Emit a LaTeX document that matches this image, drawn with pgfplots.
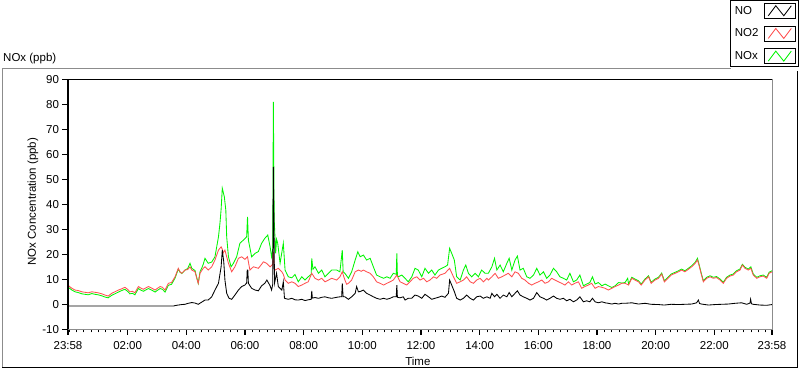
\documentclass[border=0pt]{standalone}
\usepackage{fontspec}
\setmainfont{Liberation Sans}
\usepackage{pgfplots}
\usepackage{pgfplotstable}
\pgfplotsset{compat=1.18}
\definecolor{noxgreen}{RGB}{0,245,0}
\definecolor{notwored}{RGB}{255,80,80}
\definecolor{framegray}{RGB}{140,140,140}

% time in hours after 23:58
\pgfplotstableread{
x y
0 -0.7
3.60 -0.7
3.65 -0.5
3.76 -0.3
3.88 -0.1
3.99 0.0
4.10 0.4
4.22 0.7
4.33 0.5
4.44 0.0
4.55 0.8
4.67 1.7
4.78 1.7
4.90 3.0
5.01 5.7
5.13 8.4
5.22 15.0
5.26 21.7
5.31 17.0
5.35 9.7
5.41 4.4
5.49 2.4
5.58 2.0
5.69 3.7
5.81 5.7
5.92 7.1
6.03 7.7
6.09 8.5
6.11 13.7
6.13 13.7
6.15 8.4
6.26 6.4
6.38 5.7
6.49 5.4
6.60 7.4
6.71 8.4
6.78 9.7
6.89 7.4
6.94 5.7
6.98 8.0
7.00 55.0
7.02 33.0
7.04 8.4
7.11 12.4
7.17 7.1
7.29 5.7
7.34 9.0
7.38 2.4
7.51 2.0
7.63 2.4
7.74 1.8
7.85 1.7
7.97 2.0
8.08 1.5
8.19 1.8
8.29 2.0
8.31 5.4
8.33 2.5
8.42 2.7
8.54 2.4
8.65 2.8
8.76 3.0
8.88 2.6
8.99 2.4
9.16 2.8
9.27 3.0
9.33 3.0
9.35 8.4
9.38 3.0
9.44 3.0
9.56 2.0
9.67 3.0
9.79 4.4
9.84 7.1
9.90 5.0
9.96 5.1
10.07 5.7
10.18 4.4
10.30 3.7
10.41 3.0
10.52 2.4
10.64 2.0
10.76 2.4
10.87 2.0
10.98 2.4
11.09 3.0
11.19 3.0
11.21 7.7
11.23 2.8
11.32 2.6
11.43 3.0
11.49 1.7
11.60 2.4
11.72 2.4
11.83 3.7
11.94 3.3
12.06 2.4
12.17 4.0
12.29 3.0
12.40 2.0
12.51 2.4
12.63 2.8
12.74 3.3
12.85 2.8
12.97 4.4
13.01 9.7
13.08 7.7
13.17 5.1
13.25 2.4
13.37 1.7
13.48 2.4
13.59 3.7
13.71 2.4
13.82 1.7
13.93 3.0
14.05 3.3
14.16 2.4
14.28 3.0
14.39 2.4
14.45 4.4
14.54 3.0
14.62 4.0
14.73 2.4
14.84 3.7
14.96 3.0
15.04 4.7
15.13 3.0
15.24 4.4
15.32 5.4
15.41 3.7
15.52 3.0
15.64 2.4
15.75 1.7
15.87 2.4
15.98 4.7
16.09 3.0
16.21 2.4
16.32 1.7
16.43 2.4
16.55 3.3
16.66 2.4
16.77 2.0
16.89 2.4
17.00 1.4
17.11 2.0
17.23 1.0
17.34 1.7
17.45 3.0
17.57 1.0
17.68 1.4
17.79 1.0
17.88 2.4
17.97 1.0
18.08 0.6
18.20 1.0
18.31 0.6
18.42 0.4
18.54 0.1
18.65 0.4
18.77 0.1
18.88 0.4
18.99 0.4
19.22 0.6
19.45 0.1
19.67 0.4
19.88 0.0
20.13 -0.1
20.33 -0.3
20.56 0.0
20.81 -0.1
21.03 0.0
21.26 0.1
21.43 0.6
21.49 1.7
21.53 0.3
21.60 0.1
21.83 -0.3
22.06 -0.1
22.28 0.0
22.51 0.1
22.74 0.4
22.96 0.6
23.14 0.0
23.25 0.5
23.27 2.0
23.30 0.2
23.36 0.0
23.59 -0.3
23.82 -0.4
24.00 -0.1
}\tblNO

\pgfplotstableread{
x y
0 7.6
0.12 6.5
0.24 5.7
0.35 5.5
0.47 5.0
0.58 4.8
0.69 4.6
0.81 5.0
0.92 4.8
1.03 4.6
1.15 4.2
1.26 3.7
1.37 3.3
1.49 4.4
1.60 5.0
1.72 5.7
1.83 6.2
1.94 6.8
2.03 6.0
2.11 5.0
2.20 5.2
2.28 4.6
2.40 7.1
2.48 6.5
2.57 6.0
2.66 6.6
2.74 7.1
2.85 6.5
2.97 5.7
3.05 6.4
3.14 7.1
3.22 6.8
3.31 5.7
3.42 8.4
3.53 8.7
3.65 11.0
3.76 14.4
3.82 13.0
3.88 12.4
3.99 13.7
4.08 13.9
4.16 15.0
4.22 13.7
4.33 13.0
4.40 10.0
4.44 8.4
4.50 12.4
4.56 13.5
4.61 14.4
4.67 15.0
4.78 13.7
4.90 15.0
5.01 17.7
5.13 21.7
5.22 23.0
5.26 22.0
5.29 20.5
5.35 21.7
5.41 19.0
5.47 16.4
5.58 13.0
5.69 15.0
5.81 18.4
5.92 19.0
6.03 18.0
6.12 19.0
6.20 13.7
6.32 15.0
6.38 14.8
6.49 14.4
6.60 16.0
6.66 17.0
6.77 16.4
6.89 15.0
6.98 16.0
7.00 21.0
7.03 14.5
7.06 13.7
7.17 14.4
7.29 13.0
7.34 12.0
7.40 9.7
7.51 8.4
7.63 9.0
7.74 8.4
7.85 7.1
7.97 7.7
8.08 8.4
8.19 9.0
8.31 12.4
8.42 10.4
8.54 9.7
8.65 10.4
8.76 9.0
8.88 9.7
8.99 10.4
9.16 9.7
9.27 11.0
9.35 13.0
9.44 9.7
9.50 8.0
9.56 8.4
9.67 9.7
9.79 13.0
9.90 13.7
10.00 13.2
10.07 13.7
10.18 13.0
10.30 12.4
10.41 11.0
10.52 9.0
10.64 8.4
10.76 7.7
10.87 8.4
10.98 9.0
11.09 9.7
11.21 11.7
11.32 9.0
11.43 8.4
11.55 7.7
11.66 9.0
11.77 10.4
11.89 11.0
12.00 9.7
12.12 10.4
12.23 9.0
12.34 9.7
12.46 11.0
12.57 10.4
12.68 11.7
12.85 12.4
13.01 14.4
13.14 11.0
13.25 8.4
13.37 9.0
13.48 9.7
13.59 11.0
13.71 9.0
13.82 8.4
13.93 9.7
14.05 10.4
14.16 9.0
14.28 10.4
14.33 9.7
14.45 11.0
14.56 12.4
14.67 10.4
14.79 11.0
14.90 11.7
15.01 12.4
15.13 11.0
15.24 13.0
15.35 12.4
15.47 10.4
15.58 9.7
15.70 8.4
15.81 7.7
15.92 8.4
16.04 9.0
16.15 9.7
16.26 8.4
16.38 9.0
16.49 10.4
16.60 9.7
16.72 9.0
16.83 8.4
16.94 7.7
17.06 9.0
17.17 7.7
17.28 8.4
17.40 9.0
17.51 6.4
17.62 7.1
17.74 7.7
17.85 8.4
17.97 6.4
18.08 7.1
18.20 6.8
18.31 6.4
18.42 5.7
18.54 6.4
18.65 7.1
18.77 7.7
18.88 8.4
18.99 8.4
19.11 7.7
19.22 10.4
19.33 9.7
19.45 9.0
19.54 7.7
19.67 9.7
19.79 11.0
19.88 8.4
20.01 9.7
20.13 10.4
20.24 12.1
20.33 9.0
20.45 10.4
20.56 11.7
20.70 12.4
20.81 13.0
20.92 13.7
21.03 13.0
21.15 14.0
21.26 15.0
21.38 16.4
21.46 17.7
21.51 15.7
21.58 12.4
21.66 9.0
21.77 10.4
21.89 11.0
22.00 10.4
22.11 10.7
22.23 9.7
22.34 8.4
22.45 10.4
22.57 11.3
22.68 11.7
22.79 13.0
22.91 13.7
22.99 15.7
23.08 14.4
23.19 13.7
23.28 14.4
23.36 11.7
23.48 10.4
23.59 11.0
23.70 11.3
23.82 10.4
23.90 12.4
24.00 13.0
}\tblNOtwo

\pgfplotstableread{
x y
0 6.9
0.12 5.8
0.24 5.0
0.35 4.7
0.47 4.2
0.58 4.0
0.69 3.8
0.81 4.3
0.92 4.0
1.03 3.8
1.15 3.4
1.26 2.9
1.37 2.6
1.49 3.6
1.60 4.2
1.72 4.9
1.83 5.5
1.94 6.0
2.03 5.2
2.11 4.2
2.20 4.4
2.28 3.8
2.40 6.3
2.48 5.7
2.57 5.2
2.66 5.8
2.74 6.3
2.85 5.7
2.97 4.9
3.05 5.6
3.14 6.3
3.22 6.0
3.31 4.9
3.42 7.6
3.53 8.0
3.65 10.5
3.76 14.1
3.82 12.8
3.88 12.3
3.99 13.7
4.08 14.3
4.16 16.4
4.22 14.4
4.33 13.5
4.40 10.2
4.44 8.4
4.50 13.0
4.56 14.5
4.61 16.0
4.67 18.4
4.78 16.4
4.90 16.9
5.01 19.0
5.13 27.0
5.18 32.4
5.22 38.0
5.26 46.4
5.33 43.0
5.38 37.7
5.41 27.0
5.47 19.0
5.56 15.0
5.64 16.4
5.75 19.0
5.86 24.4
5.98 25.7
6.09 27.0
6.12 35.0
6.15 25.7
6.26 19.0
6.38 20.4
6.49 21.1
6.60 24.4
6.71 26.4
6.81 27.7
6.89 23.0
6.94 19.0
6.98 22.0
7.00 81.0
7.02 50.0
7.03 33.7
7.08 20.4
7.11 26.0
7.15 24.4
7.23 16.4
7.34 24.4
7.40 13.7
7.51 11.0
7.63 10.6
7.74 11.9
7.85 9.0
7.97 11.0
8.08 9.7
8.19 11.0
8.29 12.0
8.31 18.4
8.35 14.0
8.42 15.0
8.54 12.4
8.65 13.7
8.76 11.0
8.88 12.4
8.99 13.7
9.16 13.7
9.27 13.0
9.35 21.7
9.38 13.0
9.44 12.4
9.56 10.4
9.67 13.0
9.79 17.7
9.88 21.0
9.96 19.0
10.07 19.7
10.18 17.7
10.30 18.4
10.41 15.0
10.52 11.7
10.64 11.0
10.76 10.4
10.87 11.0
10.98 10.4
11.09 12.4
11.19 12.0
11.21 20.4
11.23 11.5
11.26 11.0
11.38 11.7
11.49 10.4
11.60 9.0
11.72 11.0
11.83 14.4
11.94 13.7
12.06 11.0
12.17 14.4
12.29 12.4
12.40 13.7
12.51 11.7
12.63 13.7
12.74 14.4
12.85 15.0
12.94 15.7
13.01 22.4
13.08 20.4
13.17 17.7
13.25 11.0
13.37 9.7
13.48 13.7
13.56 15.7
13.65 12.4
13.76 11.0
13.88 12.4
13.99 11.0
14.10 13.7
14.22 12.4
14.33 12.4
14.45 15.0
14.54 18.4
14.62 13.7
14.73 15.7
14.84 13.0
14.96 16.4
15.04 18.4
15.13 13.7
15.24 17.7
15.32 19.3
15.41 13.7
15.52 14.4
15.64 11.0
15.75 10.4
15.87 11.7
15.98 14.4
16.09 11.7
16.21 13.0
16.32 10.4
16.43 11.7
16.55 14.4
16.66 13.0
16.77 11.0
16.89 10.4
17.00 9.7
17.11 12.4
17.23 9.0
17.34 9.7
17.45 11.7
17.57 7.4
17.68 8.1
17.79 8.7
17.88 11.0
17.97 8.1
18.08 8.7
18.20 7.4
18.31 8.1
18.42 7.4
18.54 6.7
18.65 7.4
18.77 8.7
18.88 8.5
18.99 8.7
19.08 10.4
19.11 8.1
19.22 10.8
19.33 10.1
19.45 9.4
19.54 8.1
19.67 10.1
19.79 11.4
19.88 8.8
20.01 10.1
20.13 10.8
20.24 12.5
20.33 9.4
20.45 10.8
20.56 12.1
20.70 12.8
20.81 13.4
20.92 14.1
21.03 13.4
21.15 14.4
21.26 15.4
21.38 16.8
21.46 18.4
21.49 17.0
21.51 16.1
21.58 12.8
21.66 9.4
21.77 10.8
21.89 11.4
22.00 10.8
22.11 11.1
22.23 10.1
22.34 8.8
22.45 10.8
22.57 11.7
22.68 12.1
22.79 13.4
22.91 14.1
22.99 16.0
23.08 14.8
23.19 14.1
23.28 15.0
23.36 12.1
23.48 10.8
23.59 11.4
23.70 11.7
23.82 10.8
23.90 12.8
24.00 13.4
}\tblNOx

\begin{document}
\begin{tikzpicture}
\begin{axis}[
  scale only axis, width=704pt, height=250pt,
  xmin=0, xmax=24, ymin=-10, ymax=90,
  clip mode=individual,
  axis line style={draw=none},
  tick pos=left, tick align=outside,
  ytick={-10,0,10,20,30,40,50,60,70,80,90},
  xtick={0,2.0333,4.0333,6.0333,8.0333,10.0333,12.0333,14.0333,16.0333,18.0333,20.0333,22.0333,24},
  xticklabels={23:58,02:00,04:00,06:00,08:00,10:00,12:00,14:00,16:00,18:00,20:00,22:00,23:58},
  minor xtick={0.0333,0.2833,...,23.8},
  major tick length=5.5pt, minor tick length=3pt,
  every tick/.style={black},
  major tick style={line width=1.1pt},
  minor tick style={line width=0.8pt},
  /pgf/number format/assume math mode=true,
  ticklabel style={font=\fontsize{11.5}{13}\selectfont},
  xticklabel style={yshift=-3pt},
  xlabel={Time}, ylabel={NOx Concentration (ppb)},
  label style={font=\fontsize{11.5}{13}\selectfont},
  xlabel style={at={(axis description cs:0.497,-0.127)}, anchor=center},
  ylabel style={at={(axis description cs:-0.0497,0.51)}, anchor=center},
  legend plot pos=right,
  reverse legend,
  legend cell align=left,
  legend image code/.code={
    \draw[black, line width=0.7pt, fill=white] (0pt,-7.5pt) rectangle (31pt,7.5pt);
    \draw[#1] (4pt,-5pt) -- (11.5pt,5pt) -- (19.5pt,-5pt) -- (27pt,5pt);
  },
  legend style={
    at={(1.0384,1.3172)}, anchor=north east,
    draw=black, line width=0.8pt, fill=white,
    font=\fontsize{11.5}{13}\selectfont,
    inner xsep=3pt, inner ysep=2.5pt,
    row sep=7pt, column sep=4pt,
    nodes={inner sep=1.5pt},
  },
]
\addplot[noxgreen, line width=0.85pt, sharp plot] table[x=x,y=y] {\tblNOx};
\addplot[notwored, line width=0.85pt, sharp plot] table[x=x,y=y] {\tblNOtwo};
\addplot[black, line width=0.85pt, sharp plot] table[x=x,y=y] {\tblNO};
\legend{NOx,NO2,NO}
\draw[framegray, line width=1pt] (rel axis cs:0,0) -- (rel axis cs:1,0) -- (rel axis cs:1,1);
\draw[black, line width=1.2pt] (rel axis cs:0,0) -- (rel axis cs:0,1) -- (rel axis cs:1,1);
\coordinate (O) at (rel axis cs:0,0);
\end{axis}
\begin{scope}[shift={(O)}, xshift=-68pt, yshift=-39.7pt, x=1pt, y=1pt]
\draw[framegray, line width=1pt] (2.5,1.5) -- (2.5,300) -- (731,300);
\draw[black, line width=1pt] (2.5,1.5) -- (797,1.5) -- (797,298);
\node[anchor=west, inner sep=0pt, font=\fontsize{11.5}{13}\selectfont] at (3,310.5) {NOx (ppb)};
\pgfresetboundingbox
\path[use as bounding box] (0,0) rectangle (800,369);
\end{scope}
\end{tikzpicture}
\end{document}
